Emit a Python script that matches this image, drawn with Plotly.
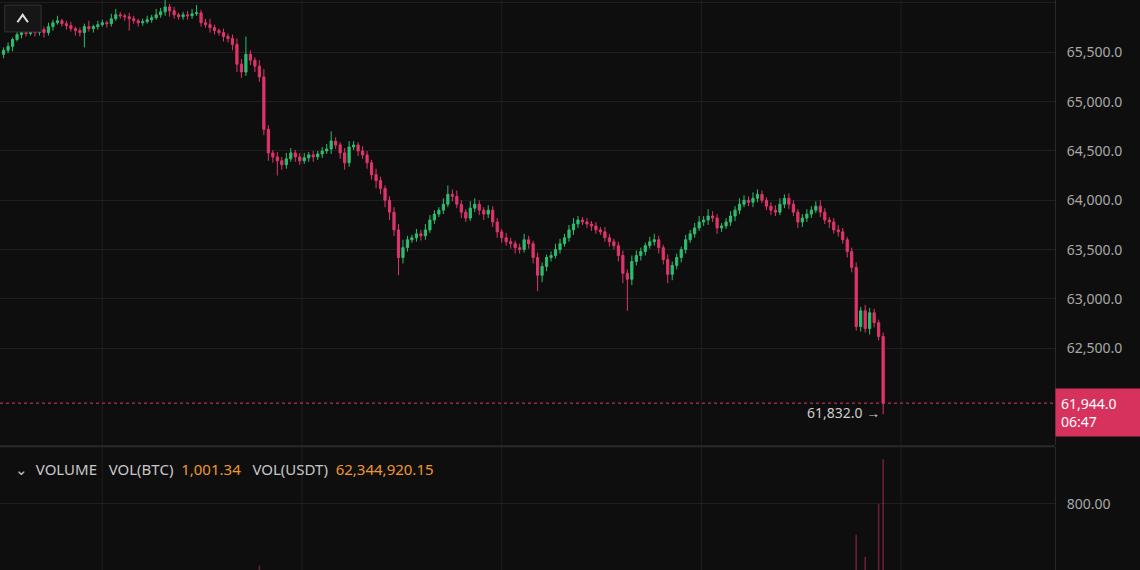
import plotly.graph_objects as go

closes = [
65520,65560,65630,65680,65700,65690,65720,65700,65730,65700,
65760,65800,65820,65790,65770,65740,65720,65700,65760,65740,
65760,65780,65800,65790,65840,65880,65870,65860,65840,65820,
65800,65810,65830,65850,65880,65910,65960,65920,65880,65860,
65880,65870,65890,65900,65800,65780,65750,65720,65700,65660,
65640,65580,65380,65300,65480,65420,65360,65250,64720,64480,
64440,64400,64360,64420,64480,64440,64400,64430,64460,64440,
64470,64500,64520,64600,64560,64480,64380,64540,64560,64500,
64460,64380,64260,64200,64120,64000,63880,63700,63420,63520,
63600,63620,63660,63640,63700,63800,63860,63900,63960,64060,
64040,63960,63880,63820,63920,63960,63900,63860,63900,63780,
63680,63620,63580,63560,63520,63500,63600,63560,63420,63240,
63330,63420,63440,63500,63560,63620,63700,63760,63800,63780,
63760,63740,63700,63680,63620,63580,63540,63440,63260,63200,
63380,63440,63480,63540,63580,63600,63520,63400,63250,63340,
63420,63500,63600,63660,63720,63780,63800,63840,63820,63720,
63740,63780,63840,63900,63960,64000,63980,64020,64060,64000,
63940,63900,63880,63960,64020,63960,63880,63780,63820,63860,
63900,63940,63880,63800,63780,63700,63680,63600,63480,63320,
62720,62880,62700,62860,62760,62620,61944]

first_open = 65480

wick_up = [
30,40,20,50,30,20,40,30,20,30, 40,30,50,20,30,40,20,30,30,60,
20,40,30,20,50,60,30,20,40,30, 20,30,40,30,60,40,90,30,40,20,
30,40,50,80,30,40,60,30,20,40, 30,40,60,50,180,40,30,60,80,40,
30,50,40,60,50,30,40,50,30,40, 30,40,50,100,40,30,50,60,40,30,
50,40,30,60,40,30,40,50,60,80, 40,30,50,40,60,50,40,30,60,90,
50,60,40,30,70,60,40,30,50,40, 40,30,50,40,30,40,60,40,30,50,
40,30,40,60,50,40,50,60,40,30, 40,30,40,30,50,40,30,40,50,40,
60,50,40,30,50,60,40,30,50,40, 40,30,50,40,50,60,40,70,50,40,
30,40,50,40,60,50,40,60,50,40, 30,40,50,60,40,50,40,30,40,50,
40,50,60,40,30,40,50,40,30,40, 50,40,60,50,40,30,40,50,40,30,
320,120,350,100,150,110,130]

wick_dn = [
40,30,50,20,40,30,20,40,30,50, 30,40,20,30,40,30,50,40,150,30,
40,30,20,40,30,20,30,40,120,30, 40,30,20,30,20,30,40,60,40,30,
30,40,30,20,40,30,50,40,30,50, 40,60,80,60,40,50,60,50,60,80,
60,150,50,40,30,50,40,30,40,50, 30,40,30,50,40,60,70,40,30,50,
40,60,50,80,60,70,80,60,180,60, 40,30,40,50,40,30,40,30,40,30,
50,40,60,40,30,40,50,60,40,50, 60,50,40,50,60,40,30,50,60,160,
70,50,40,30,40,30,40,50,40,30, 40,50,40,30,40,50,40,60,100,320,
60,40,50,40,30,40,60,50,90,60, 40,50,40,30,40,30,40,50,40,60,
40,30,40,50,40,30,40,50,40,30, 40,50,40,30,40,50,40,60,50,40,
40,30,50,40,60,40,50,40,60,50, 40,50,40,60,50,40,50,60,60,70,
200,240,180,260,150,140,110]

volumes = [
120,140,90,110,160,130,100,150,120,140, 110,130,160,100,90,120,140,110,180,130,
100,120,150,110,170,190,130,120,150,140, 110,100,130,150,170,200,240,160,130,120,
110,150,130,180,220,160,140,170,130,200, 150,230,330,300,260,210,240,520,430,380,
260,300,220,180,170,160,150,140,160,150, 140,150,170,210,190,230,260,200,180,170,
190,220,260,240,270,300,320,360,420,300, 220,190,170,160,180,200,190,210,230,260,
220,240,210,200,220,180,170,160,170,210, 230,200,190,180,200,210,190,220,260,340,
260,210,190,170,180,200,220,230,240,200, 190,180,170,180,200,210,220,250,300,350,
270,230,210,200,190,180,200,230,300,250, 220,200,210,190,200,220,230,210,200,220,
190,200,210,220,240,230,210,220,240,220, 210,200,190,230,240,210,220,250,200,190,
180,200,220,230,210,240,230,260,320,420, 660,480,560,450,490,800,1001]

GREEN = "#2ebd6f"
RED = "#e0356a"
BG = "#0e0e0e"
GRID = "#1f1f1f"

n = len(closes)
idx = list(range(n))
opens = [first_open] + closes[:-1]
highs = [max(o, c) + w for o, c, w in zip(opens, closes, wick_up)]
lows = [min(o, c) - w for o, c, w in zip(opens, closes, wick_dn)]
lows[-1] = 61832
vol_colors = ["rgba(46,189,111,0.45)" if c >= o else "rgba(224,53,106,0.45)" for o, c in zip(opens, closes)]

price_ticks = [61500, 62500, 63000, 63500, 64000, 64500, 65000, 65500, 66000]

fig = go.Figure()
fig.add_trace(go.Candlestick(
    x=idx, open=opens, high=highs, low=lows, close=closes,
    increasing=dict(line=dict(color=GREEN, width=1), fillcolor=GREEN),
    decreasing=dict(line=dict(color=RED, width=1), fillcolor=RED),
    whiskerwidth=0, xaxis="x", yaxis="y", showlegend=False, hoverinfo="skip"))
fig.add_trace(go.Bar(x=idx, y=volumes, marker=dict(color=vol_colors, line_width=0),
                     width=0.35, xaxis="x2", yaxis="y2", showlegend=False, hoverinfo="skip"))

xr = [-0.8, 234.3]
last_price = 61944

fig.update_layout(
    width=1140, height=570, margin=dict(l=0, r=85, t=0, b=0, autoexpand=False),
    paper_bgcolor=BG, plot_bgcolor=BG,
    font=dict(family="Noto Sans", color="#a8a8a8", size=14),
    xaxis=dict(domain=[0, 1], range=xr, showticklabels=False, showgrid=False,
               zeroline=False, rangeslider=dict(visible=False), fixedrange=True),
    xaxis2=dict(domain=[0, 1], range=xr, showticklabels=False, showgrid=False,
                zeroline=False, anchor="y2"),
    yaxis=dict(domain=[0.219, 1], range=[61518, 66030], side="right",
               tickvals=price_ticks, ticktext=[f"{v:,.1f}" for v in price_ticks],
               gridcolor=GRID, zeroline=False, showline=True, linecolor="#2a2a2a",
               ticks="", ticklabelstandoff=8),
    yaxis2=dict(domain=[0, 0.215], range=[500, 1055], side="right", anchor="x2",
                tickvals=[800], ticktext=["800.00"], gridcolor=GRID, zeroline=False,
                showline=True, linecolor="#2a2a2a", ticklabelstandoff=8),
)

shapes = []
for gx in [22, 66.5, 111, 155.5, 200]:
    shapes.append(dict(type="line", xref="x", yref="paper", x0=gx, x1=gx, y0=0, y1=1,
                       line=dict(color=GRID, width=1), layer="below"))
shapes.append(dict(type="line", xref="paper", yref="paper", x0=0, x1=1, y0=0.217, y1=0.217,
                   line=dict(color="#2a2a2a", width=2)))
shapes.append(dict(type="line", xref="paper", yref="y", x0=0, x1=1, y0=last_price, y1=last_price,
                   line=dict(color=RED, width=1, dash="dot")))
shapes.append(dict(type="rect", xref="paper", yref="paper", x0=0.0045, x1=0.039, y0=0.944, y1=0.991,
                   line=dict(color="#333", width=1), fillcolor="#161616"))
shapes.append(dict(type="path", xref="paper", yref="paper",
                   path="M 0.0165 0.961 L 0.0215 0.974 L 0.0265 0.961",
                   line=dict(color="#e0e0e0", width=2)))
fig.update_layout(shapes=shapes)

ann = [
    dict(xref="paper", yref="y", x=1.0, y=last_price, xanchor="left", yanchor="middle",
         yshift=-9, text="61,944.0<br>06:47", showarrow=False, align="left",
         bgcolor="#d7325e", font=dict(size=14, color="#ffffff"), borderpad=5, width=75),
    dict(xref="x", yref="y", x=n - 1.2, y=61832, xanchor="right", yanchor="middle",
         yshift=2, text="61,832.0 →", showarrow=False, font=dict(size=14, color="#cccccc")),
    dict(xref="paper", yref="paper", x=0.012, y=0.178, xanchor="left", yanchor="middle",
         showarrow=False, font=dict(size=15, color="#c8c8c8"),
         text="⌄  VOLUME   VOL(BTC)  <span style='color:#f0962e'>1,001.34</span>   VOL(USDT)  <span style='color:#f0962e'>62,344,920.15</span>"),
]
fig.update_layout(annotations=ann)

fig.write_html("out.html", config={"displayModeBar": False, "staticPlot": True})
with open("out.html", encoding="utf-8") as f:
    html = f.read()
html = html.replace("<body>", "<body style=\"margin:0;background:#0e0e0e;overflow:hidden\">", 1)
with open("out.html", "w", encoding="utf-8") as f:
    f.write(html)
